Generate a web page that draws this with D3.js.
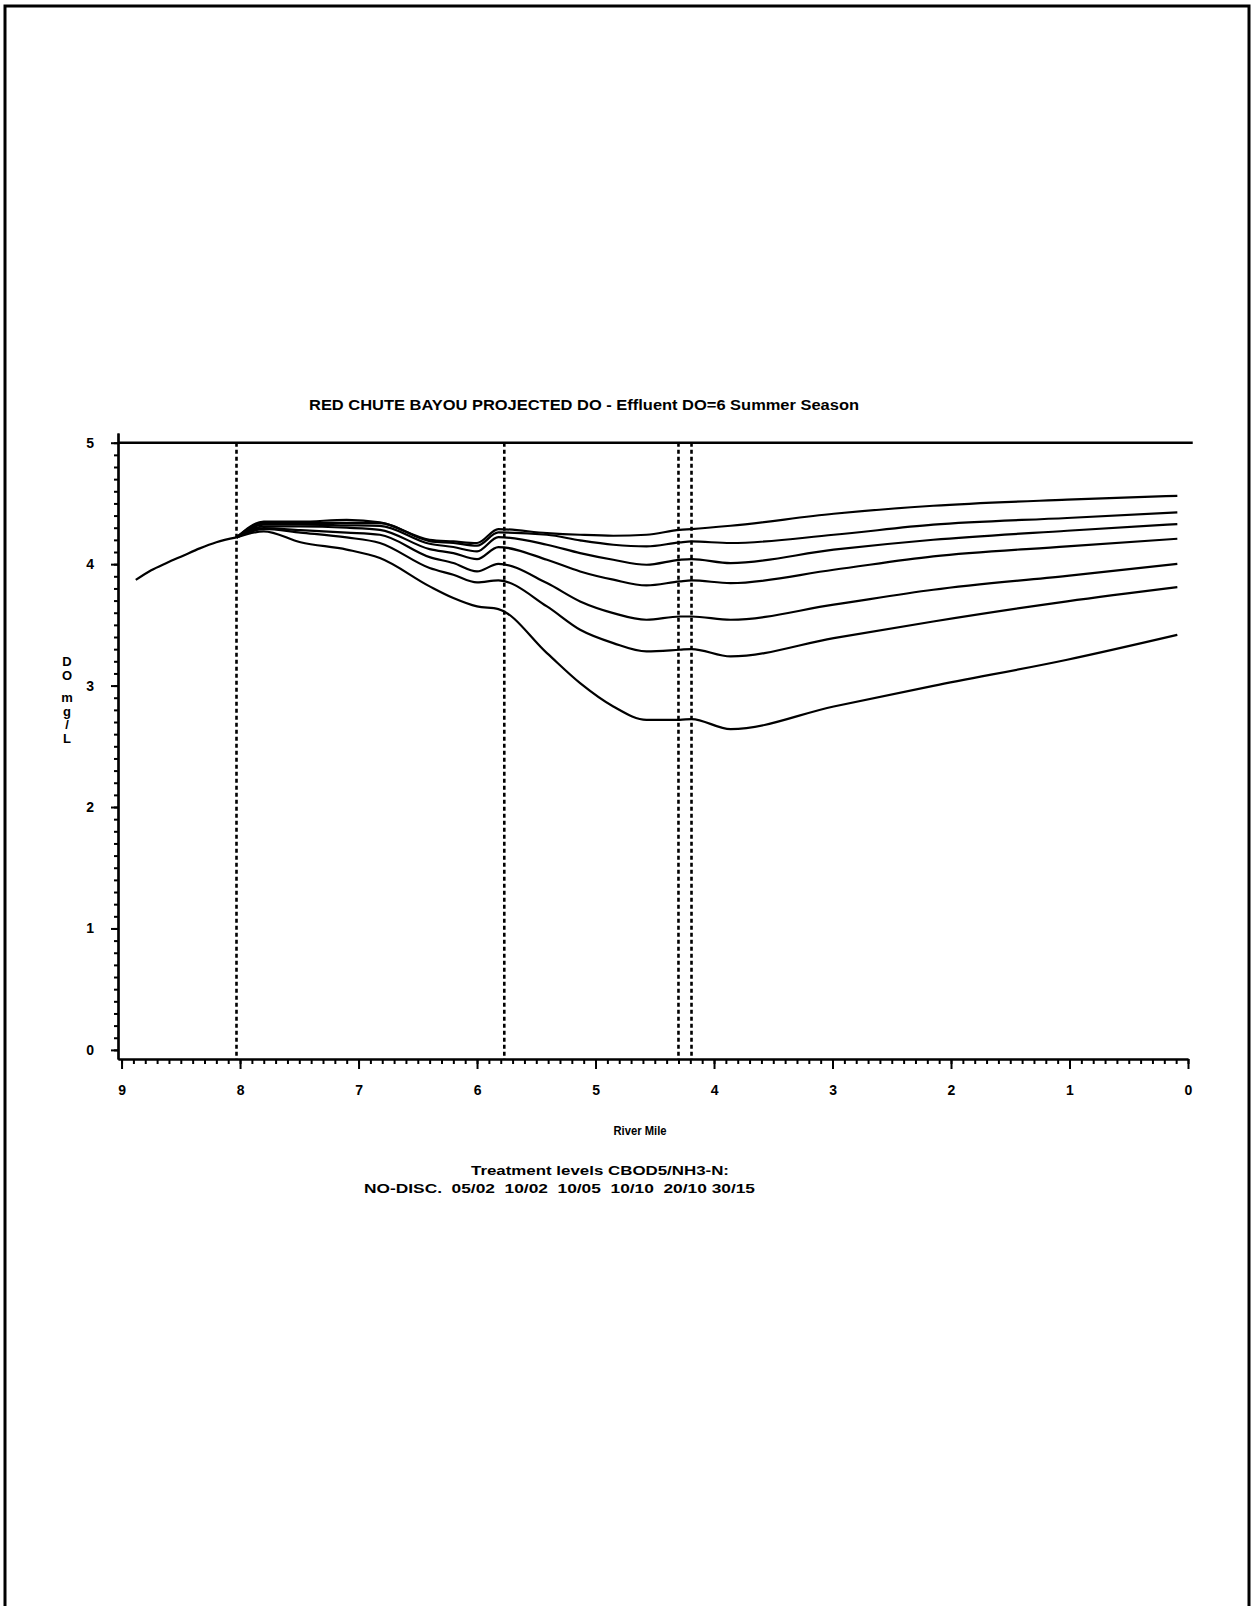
<!DOCTYPE html>
<html>
<head>
<meta charset="utf-8">
<script src="https://cdn.jsdelivr.net/npm/d3@7"></script>
<style>
  html, body { margin: 0; padding: 0; background: #fff; }
  svg { display: block; }
  text { font-family: "Liberation Sans", Arial, sans-serif; font-weight: bold; fill: #000; }
</style>
</head>
<body>
<svg id="chart" width="1253" height="1606"></svg>
<script>
// River mile stations downstream of the outfall (mile 8.03)
const miles = [8.03, 7.80, 7.49, 7.10, 6.82, 6.40, 6.20, 6.00, 5.82, 5.41, 5.13, 4.85, 4.57, 4.29, 4.19, 3.86, 2.99, 2.15, 1.02, 0.09];

// Projected dissolved oxygen (mg/L) for each treatment level CBOD5/NH3-N
const noDisc = [4.22, 4.35, 4.35, 4.365, 4.344, 4.201, 4.187, 4.174, 4.289, 4.256, 4.242, 4.234, 4.242, 4.283, 4.289, 4.316, 4.415, 4.481, 4.531, 4.563];
const t0502  = [4.22, 4.34, 4.34, 4.34, 4.338, 4.190, 4.174, 4.152, 4.261, 4.242, 4.196, 4.160, 4.146, 4.179, 4.187, 4.174, 4.242, 4.325, 4.380, 4.426];
const t1002  = [4.22, 4.325, 4.325, 4.32, 4.316, 4.168, 4.141, 4.105, 4.223, 4.160, 4.091, 4.036, 3.995, 4.036, 4.042, 4.009, 4.119, 4.201, 4.275, 4.330];
const t1005  = [4.22, 4.31, 4.31, 4.30, 4.283, 4.124, 4.091, 4.042, 4.141, 4.036, 3.940, 3.872, 3.825, 3.858, 3.866, 3.844, 3.954, 4.064, 4.146, 4.209];
const t1010  = [4.22, 4.297, 4.28, 4.26, 4.242, 4.058, 4.009, 3.940, 4.003, 3.844, 3.693, 3.597, 3.542, 3.569, 3.569, 3.542, 3.666, 3.789, 3.904, 4.003];
const t2010  = [4.22, 4.29, 4.26, 4.22, 4.174, 3.968, 3.913, 3.850, 3.866, 3.652, 3.460, 3.350, 3.281, 3.295, 3.301, 3.240, 3.391, 3.528, 3.694, 3.811];
const t3015  = [4.22, 4.27, 4.18, 4.12, 4.050, 3.817, 3.721, 3.652, 3.630, 3.267, 3.020, 2.828, 2.718, 2.718, 2.724, 2.641, 2.828, 2.998, 3.213, 3.418];

const seriesNames = ["NO-DISC.", "05/02", "10/02", "10/05", "10/10", "20/10", "30/15"];
const seriesValues = [noDisc, t0502, t1002, t1005, t1010, t2010, t3015];

// Reach upstream of the discharge, common to every scenario
const upMiles = [8.88, 8.75, 8.62, 8.48, 8.34, 8.20, 8.03];
const upDO    = [3.87, 3.95, 4.01, 4.07, 4.13, 4.18, 4.22];

// DO criterion and reach boundaries (river miles)
const criterion = 5;
const boundaries = [8.03, 5.77, 4.30, 4.19];

const xTicks = [9, 8, 7, 6, 5, 4, 3, 2, 1, 0];
const yTicks = [0, 1, 2, 3, 4, 5];

const titleText = "RED CHUTE BAYOU PROJECTED DO - Effluent DO=6 Summer Season";
const xTitle = "River Mile";
const yTitle = ["D", "O", "", "m", "g", "/", "L"];
const noteLine1 = "Treatment levels CBOD5/NH3-N:";
const noteLine2 = "NO-DISC.  05/02  10/02  10/05  10/10  20/10 30/15";

const svg = d3.select("#chart");

// page frame
svg.append("path")
  .attr("d", "M5,1606 V6 H1249 V1606")
  .attr("fill", "none").attr("stroke", "#000").attr("stroke-width", 3);

const x = d3.scaleLinear().domain([9.03, 0]).range([118, 1188]);
const y = d3.scaleLinear().domain([-0.075, 5.08]).range([1059, 433]);

// x axis: minor ticks every 0.1 mile, labelled majors
const xMinor = d3.range(0, 90.5, 1).map(d => d / 10);
const gxMinor = svg.append("g").attr("transform", "translate(0,1059)")
  .call(d3.axisBottom(x).tickValues(xMinor).tickSize(5).tickSizeOuter(0).tickFormat(""));
const gx = svg.append("g").attr("transform", "translate(0,1059)")
  .call(d3.axisBottom(x).tickValues(xTicks).tickSize(10).tickSizeOuter(0).tickPadding(16).tickFormat(d3.format("d")));
[gxMinor, gx].forEach(g => {
  g.selectAll("path.domain").attr("stroke", "#000").attr("stroke-width", 2.2);
  g.selectAll(".tick line").attr("stroke", "#000").attr("stroke-width", 2);
});
gx.selectAll(".tick text").style("font-size", "14px").style("font-family", "'Liberation Sans', Arial, sans-serif").style("font-weight", "bold");

// y axis: minor ticks every 0.1 mg/L
const yMinor = d3.range(0, 50.5, 1).map(d => d / 10);
const gyMinor = svg.append("g").attr("transform", "translate(118,0)")
  .call(d3.axisLeft(y).tickValues(yMinor).tickSize(4).tickSizeOuter(0).tickFormat(""));
const gy = svg.append("g").attr("transform", "translate(118,0)")
  .call(d3.axisLeft(y).tickValues(yTicks).tickSize(7).tickSizeOuter(0).tickPadding(17).tickFormat(d3.format("d")));
[gyMinor, gy].forEach(g => {
  g.selectAll("path.domain").attr("stroke", "#000").attr("stroke-width", 2.2);
  g.selectAll(".tick line").attr("stroke", "#000").attr("stroke-width", 2);
});
gy.selectAll(".tick text").style("font-size", "14px").style("font-family", "'Liberation Sans', Arial, sans-serif").style("font-weight", "bold");

// criterion line
svg.append("line")
  .attr("x1", 118).attr("x2", x(-0.04))
  .attr("y1", y(criterion)).attr("y2", y(criterion))
  .attr("stroke", "#000").attr("stroke-width", 2.4);

// reach boundaries
svg.append("g").selectAll("line").data(boundaries).join("line")
  .attr("x1", d => x(d)).attr("x2", d => x(d))
  .attr("y1", y(criterion)).attr("y2", 1059)
  .attr("stroke", "#000").attr("stroke-width", 2.6)
  .attr("stroke-dasharray", "4,3");

const line = d3.line().x(d => x(d[0])).y(d => y(d[1])).curve(d3.curveMonotoneX);

svg.append("path")
  .datum(upMiles.map((m, i) => [m, upDO[i]]))
  .attr("d", line)
  .attr("fill", "none").attr("stroke", "#000").attr("stroke-width", 2.2);

svg.append("g").selectAll("path")
  .data(seriesValues.map((vals, k) => ({ name: seriesNames[k], pts: miles.map((m, i) => [m, vals[i]]) })))
  .join("path")
  .attr("class", "series")
  .attr("d", d => line(d.pts))
  .attr("fill", "none").attr("stroke", "#000").attr("stroke-width", 2.2);

// titles and notes
svg.append("text").attr("x", 584).attr("y", 410).attr("text-anchor", "middle")
  .attr("textLength", 550).attr("lengthAdjust", "spacingAndGlyphs")
  .style("font-size", "14px").text(titleText);

svg.append("text").attr("x", 640).attr("y", 1135).attr("text-anchor", "middle")
  .attr("textLength", 53).attr("lengthAdjust", "spacingAndGlyphs")
  .style("font-size", "12px").text(xTitle);

svg.append("text").attr("x", 600).attr("y", 1175).attr("text-anchor", "middle")
  .attr("textLength", 258).attr("lengthAdjust", "spacingAndGlyphs")
  .style("font-size", "13px").text(noteLine1);

svg.append("text").attr("x", 364).attr("y", 1193).attr("text-anchor", "start")
  .attr("textLength", 391).attr("lengthAdjust", "spacingAndGlyphs")
  .style("font-size", "13px").style("white-space", "pre").attr("xml:space", "preserve").text(noteLine2);

const yLab = svg.append("g");
const yPos = [666, 680, 0, 702, 716, 729, 743];
yTitle.forEach((ch, i) => {
  if (!ch) return;
  yLab.append("text").attr("x", 67).attr("y", yPos[i]).attr("text-anchor", "middle")
    .style("font-size", "13px").text(ch);
});
</script>
</body>
</html>
